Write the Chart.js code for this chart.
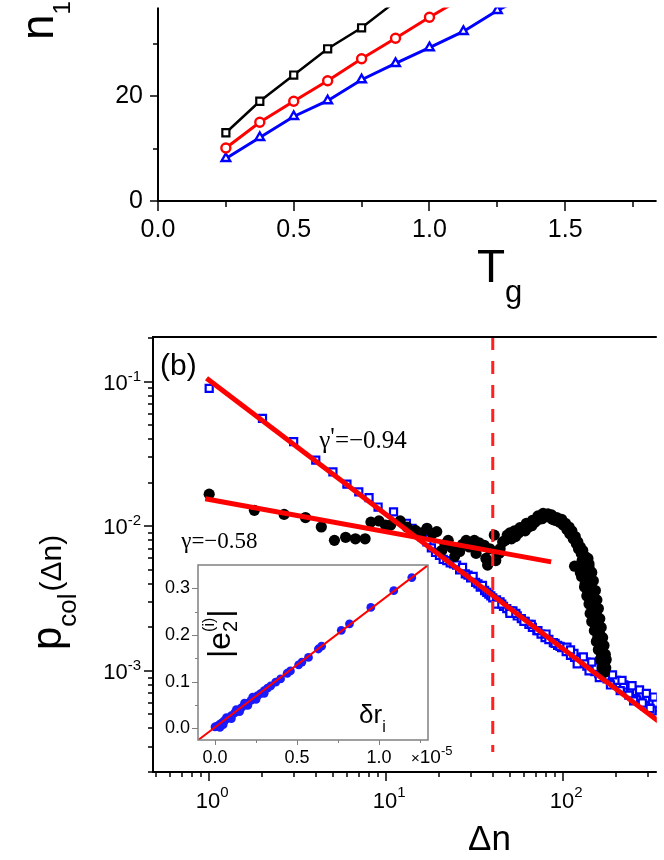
<!DOCTYPE html>
<html>
<head>
<meta charset="utf-8">
<script src="https://cdn.jsdelivr.net/npm/chart.js@4.4.0/dist/chart.umd.min.js"></script>
<style>
  body { margin: 0; background: #fff; }
  #wrap { position: relative; width: 664px; height: 860px; overflow: hidden; background: #fff; }
  canvas { position: absolute; }
  #topChart { left: 0; top: 0; }
  #bottomChart { left: 0; top: 310px; }
  #insetChart { left: 150px; top: 550px; }
</style>
</head>
<body>
<div id="wrap">
  <canvas id="topChart" width="664" height="310" style="width:664px;height:310px"></canvas>
  <canvas id="bottomChart" width="664" height="550" style="width:664px;height:550px"></canvas>
  <canvas id="insetChart" width="320" height="222" style="width:320px;height:222px"></canvas>
</div>
<script>
// panel (a): n1 vs Tg
const tgValues = [0.25, 0.375, 0.5, 0.625, 0.75, 0.875, 1.0, 1.125, 1.25, 1.375];
const n1Black = [13.0, 19.0, 24.0, 29.0, 33.0, 38.0];
const n1Red = [10.1, 15.0, 19.0, 22.9, 27.1, 31.0, 35.0, 38.8];
const n1Blue = [8.1, 12.1, 16.1, 19.1, 23.1, 26.2, 29.2, 32.3, 36.3, 39.6];
const tgMajorTicks = [0, 0.5, 1.0, 1.5];
const tgMinorTicks = [0.25, 0.75, 1.25, 1.75];
const n1MajorTicks = [0, 20];
const n1MinorTicks = [10, 30];

// panel (b): p_col(dn), log-log
const blueDn = [1, 2, 3, 4, 5, 6, 7, 8, 9, 11, 13,
  14, 15, 16, 17, 18, 19, 20, 21, 22, 23, 24, 25, 26, 27, 28, 29, 30, 31, 32, 33, 34, 35, 36, 37, 38, 39, 40,
  42, 44, 46, 48, 50, 52, 55, 58, 61, 64, 67, 71, 75, 79, 83, 88, 93, 98, 104, 110, 116, 122, 129, 136, 143,
  151, 159, 168, 177, 187, 197, 208, 219, 231, 244, 257, 271, 286, 301, 317, 334,
  42, 45, 50, 54, 60, 66, 72, 80, 90, 96, 105, 115, 125, 135, 150, 165, 180, 200, 220, 240, 260, 280, 300, 320, 335,
  120, 140, 160, 185, 210, 235, 260, 290, 320,
  110, 130, 145, 170, 190, 215, 245, 270, 295, 325, 250, 280, 310];
const blueP = [0.090, 0.0558, 0.0385, 0.0287, 0.0238, 0.0196, 0.0173, 0.0158, 0.0136, 0.0126, 0.0105,
  0.0097, 0.0090, 0.0084, 0.0078, 0.0071, 0.0066, 0.0063, 0.0059, 0.0058, 0.0056, 0.0055, 0.0054, 0.0050, 0.0052,
  0.0047, 0.0046, 0.0044, 0.0045, 0.0041, 0.0040, 0.0038, 0.0039, 0.0036, 0.0035, 0.0034, 0.0033, 0.0032,
  0.0031, 0.0030, 0.0028, 0.0027, 0.0026, 0.0026, 0.0024, 0.0023, 0.0022, 0.0021, 0.0020, 0.0019, 0.0018, 0.0017,
  0.00165, 0.00157, 0.00150, 0.00145, 0.00136, 0.00128, 0.00124, 0.00119, 0.00113, 0.00108, 0.00104,
  0.00099, 0.00096, 0.00091, 0.00088, 0.00084, 0.00081, 0.00078, 0.00075, 0.00072, 0.00070, 0.00067, 0.00064,
  0.00062, 0.00060, 0.00058, 0.00056,
  0.0029, 0.0029, 0.0025, 0.0025, 0.0022, 0.0021, 0.0019, 0.0018, 0.00155, 0.00148, 0.00146, 0.00132, 0.00120,
  0.00115, 0.00106, 0.00097, 0.00092, 0.00086, 0.00080, 0.00076, 0.00072, 0.00068, 0.00065, 0.00062, 0.00060,
  0.00112, 0.00100, 0.00090, 0.00080, 0.00073, 0.00068, 0.00063, 0.00057, 0.00053,
  0.00140, 0.00125, 0.00115, 0.00102, 0.00094, 0.00086, 0.00079, 0.00074, 0.00070, 0.00066, 0.00062, 0.00060,
  0.00055];

const blackDn = [1.0, 1.8, 2.65, 3.5, 4.3, 5.1, 5.9, 6.7, 7.6, 8.2, 9.1, 9.9, 10.6, 12.0, 13.1, 14.6, 15.8, 17.0,
  18.2, 19.3, 20.6, 21.5, 22.4, 23.5, 24.4, 26.0, 27.0, 28.3, 29.5, 31.5, 32.2, 33.5, 35.8, 36.6, 37.4, 38.5,
  40.8, 41.6, 43.5, 45.5, 48.3, 51, 53.8, 56, 58.6, 61, 63.8, 66.5, 69.5, 73, 76, 79, 83, 87, 90, 95, 100,
  105, 109, 114, 118.6, 122, 126.5, 130, 135, 116, 125, 136, 134, 132, 138, 144, 143, 147, 149, 150, 153,
  157, 160, 163, 165, 167, 169, 171,
  44, 47, 50, 53, 57, 62, 67, 72, 77, 82, 86, 92, 98, 103, 108, 112, 117, 121, 125, 129, 133, 138, 140, 142,
  139, 146, 149, 152, 155, 158, 161, 166, 170, 172, 174,
  140, 145, 148, 152, 155, 158, 161, 164, 167, 170, 173, 175, 128, 131, 127, 133, 136, 140, 142, 145, 150, 154,
  158, 162, 166];
const blackP = [0.0167, 0.0129, 0.0121, 0.0115, 0.0099, 0.0080, 0.0084, 0.0082, 0.0082, 0.0107, 0.0109, 0.0102,
  0.0102, 0.0109, 0.0099, 0.0094, 0.0090, 0.0097, 0.0089, 0.0092, 0.0068, 0.0075, 0.0080, 0.0071, 0.0062, 0.0067,
  0.0075, 0.0080, 0.0072, 0.0080, 0.0065, 0.0077, 0.0074, 0.0060, 0.0054, 0.0070, 0.0087, 0.0058, 0.0065, 0.0078,
  0.0087, 0.0082, 0.0085, 0.0090, 0.0094, 0.0093, 0.0099, 0.0101, 0.0107, 0.0112, 0.0113, 0.0120, 0.0116, 0.0112,
  0.0110, 0.0107, 0.0102, 0.0095, 0.0089, 0.0082, 0.0076, 0.0070, 0.0065, 0.0060, 0.0057, 0.0053, 0.0048, 0.0050,
  0.0044, 0.0038, 0.0035, 0.00325, 0.0029, 0.0026, 0.0023, 0.00214, 0.0019, 0.00172, 0.00155, 0.00139, 0.00128,
  0.00119, 0.00108, 0.00098,
  0.0070, 0.0080, 0.0090, 0.0093, 0.0098, 0.0105, 0.0110, 0.0118, 0.0123, 0.0122, 0.0120, 0.0115, 0.0112, 0.0105,
  0.0099, 0.0093, 0.0085, 0.0078, 0.0072, 0.0068, 0.0062, 0.0060, 0.0052, 0.0046, 0.0040, 0.0037, 0.0031, 0.0027,
  0.0024, 0.0021, 0.0018, 0.0015, 0.0013, 0.00115, 0.00105,
  0.0055, 0.0048, 0.0042, 0.0036, 0.0031, 0.0027, 0.0023, 0.0020, 0.0017, 0.0015, 0.0013, 0.0012, 0.0058, 0.0052,
  0.0045, 0.0040, 0.0033, 0.0029, 0.0025, 0.0022, 0.0019, 0.0016, 0.0014, 0.0012, 0.00105];

const fitSteepDn = [0.966, 400];
const fitSteepP = [0.1056, 0.000391];
const fitFlatDn = [0.95, 85.5];
const fitFlatP = [0.0155, 0.00568];
const cutoffDn = [40, 40];
const cutoffP = [0.204, 0.000275];
const dnMajorTicks = [1, 10, 100];
const pMajorTicks = [0.001, 0.01, 0.1];
const gammaSteepAt = [4.19, 0.0348];
const gammaFlatAt = [0.695, 0.00714];

// inset: |e2(i)| vs dr_i (x in units of 1e-5)
const insetDr = [0.00, 0.01, 0.02, 0.03, 0.04, 0.05, 0.06, 0.08, 0.10, 0.12, 0.14, 0.16, 0.18, 0.20, 0.22, 0.24,
  0.26, 0.28, 0.30, 0.32, 0.34, 0.37, 0.40, 0.44, 0.46, 0.51, 0.53, 0.57, 0.63, 0.65, 0.77, 0.82, 0.95, 1.09, 1.20,
  0.03, 0.05, 0.10, 0.15, 0.20, 0.25, 0.30, 0.07, 0.13, 0.18, 0.23];
const insetE2 = [0.003, 0.004, 0.006, 0.009, 0.011, 0.014, 0.017, 0.022, 0.027, 0.033, 0.038, 0.044, 0.049, 0.054,
  0.060, 0.065, 0.070, 0.075, 0.081, 0.086, 0.091, 0.099, 0.106, 0.118, 0.123, 0.136, 0.142, 0.152, 0.170, 0.176,
  0.210, 0.224, 0.259, 0.295, 0.323,
  0.002, 0.008, 0.021, 0.036, 0.049, 0.062, 0.075, 0.023, 0.040, 0.054, 0.067];
const insetFitDr = [-0.15, 1.4];
const insetFitE2 = [-0.0378, 0.3768];
const drTicks = [0, 0.5, 1.0];
const drMinorTicks = [0.25, 0.75, 1.25];
const e2Ticks = [0, 0.1, 0.2, 0.3];
const e2MinorTicks = [0.05, 0.15, 0.25];

const SANS = '"Liberation Sans", Arial, sans-serif';
const SERIF = '"Liberation Serif", "Times New Roman", serif';

function toPoints(xs, ys) {
  return ys.map((y, i) => ({ x: xs[i], y: y }));
}

function fontOf(p) {
  return p.size + "px " + (p.family || SANS);
}

// draws text pieces with sub/superscripts; returns total width
function drawParts(ctx, parts, x, y, angle, measureOnly) {
  ctx.save();
  ctx.translate(x, y);
  if (angle) ctx.rotate(angle);
  ctx.textAlign = "left";
  ctx.textBaseline = "alphabetic";
  ctx.fillStyle = "#000";
  let w = 0;
  let prevStart = 0;
  let prevW = 0;
  parts.forEach((p) => {
    ctx.font = fontOf(p);
    const pw = ctx.measureText(p.text).width;
    let start;
    if (p.overlay) {
      start = prevStart;
      prevW = Math.max(prevW, pw);
    } else {
      start = w + (p.dx || 0);
      prevStart = start;
      prevW = pw;
    }
    if (!measureOnly) ctx.fillText(p.text, start, p.dy || 0);
    w = prevStart + prevW;
  });
  ctx.restore();
  return w;
}

function line(ctx, x1, y1, x2, y2) {
  ctx.beginPath();
  ctx.moveTo(x1, y1);
  ctx.lineTo(x2, y2);
  ctx.stroke();
}

function logMinors(min, max) {
  const out = [];
  for (let e = Math.floor(Math.log10(min)); e <= Math.ceil(Math.log10(max)); e++) {
    for (let k = 2; k <= 9; k++) {
      const v = k * Math.pow(10, e);
      if (v >= min && v <= max) out.push(v);
    }
  }
  return out;
}

const topAxes = {
  id: "topAxes",
  afterDraw(chart) {
    const { ctx, chartArea: a, scales } = chart;
    const x = scales.x;
    const y = scales.y;
    ctx.save();
    ctx.strokeStyle = "#000";
    ctx.lineWidth = 2;
    line(ctx, a.left, a.top, a.left, a.bottom + 1);
    line(ctx, a.left - 1, a.bottom, a.right, a.bottom);
    ctx.lineWidth = 1.5;
    tgMajorTicks.forEach((v) => { const px = Math.round(x.getPixelForValue(v)); line(ctx, px, a.bottom, px, a.bottom + 10); });
    tgMinorTicks.forEach((v) => { const px = Math.round(x.getPixelForValue(v)); line(ctx, px, a.bottom, px, a.bottom + 6); });
    n1MajorTicks.forEach((v) => { const py = Math.round(y.getPixelForValue(v)); line(ctx, a.left - 8, py, a.left, py); });
    n1MinorTicks.forEach((v) => { const py = Math.round(y.getPixelForValue(v)); line(ctx, a.left - 5, py, a.left, py); });

    ctx.fillStyle = "#000";
    ctx.font = "25px " + SANS;
    ctx.textAlign = "center";
    ctx.textBaseline = "middle";
    tgMajorTicks.forEach((v) => ctx.fillText(v.toFixed(1), x.getPixelForValue(v), a.bottom + 29));
    ctx.textAlign = "right";
    n1MajorTicks.forEach((v) => ctx.fillText(String(v), a.left - 15, y.getPixelForValue(v)));
    ctx.restore();

    drawParts(ctx, [{ text: "T", size: 46 }, { text: "g", size: 31, dy: 20 }], a.left + 319, a.bottom + 81);
    drawParts(ctx, [{ text: "n", size: 46 }, { text: "1", size: 24, dy: 17 }], 53, 40, -Math.PI / 2);
  },
};

const bottomAxes = {
  id: "bottomAxes",
  afterDraw(chart) {
    const { ctx, chartArea: a, scales } = chart;
    const x = scales.x;
    const y = scales.y;
    ctx.save();
    ctx.strokeStyle = "#000";
    ctx.lineWidth = 2;
    line(ctx, a.left, a.top - 1, a.left, a.bottom + 1);
    line(ctx, a.left - 1, a.bottom, a.right, a.bottom);
    line(ctx, a.left - 1, a.top, a.right, a.top);
    ctx.lineWidth = 1.5;
    dnMajorTicks.forEach((v) => { const px = Math.round(x.getPixelForValue(v)); line(ctx, px, a.bottom, px, a.bottom + 9); });
    logMinors(x.min, x.max).forEach((v) => { const px = Math.round(x.getPixelForValue(v)); line(ctx, px, a.bottom, px, a.bottom + 5); });
    pMajorTicks.forEach((v) => { const py = Math.round(y.getPixelForValue(v)); line(ctx, a.left - 9, py, a.left, py); });
    logMinors(y.min, y.max).forEach((v) => { const py = Math.round(y.getPixelForValue(v)); line(ctx, a.left - 5, py, a.left, py); });
    ctx.restore();

    pMajorTicks.forEach((v) => {
      const parts = [{ text: "10", size: 22 }, { text: String(Math.round(Math.log10(v))), size: 15, dy: -9 }];
      const w = drawParts(ctx, parts, 0, 0, 0, true);
      drawParts(ctx, parts, a.left - 12 - w, y.getPixelForValue(v) + 8);
    });
    dnMajorTicks.forEach((v) => {
      const parts = [{ text: "10", size: 22 }, { text: String(Math.round(Math.log10(v))), size: 15, dy: -11 }];
      const w = drawParts(ctx, parts, 0, 0, 0, true);
      drawParts(ctx, parts, x.getPixelForValue(v) + 3 - w / 2, a.bottom + 36);
    });

    drawParts(ctx, [{ text: "(b)", size: 30 }], a.left + 7, a.top + 38);
    drawParts(ctx, [{ text: "\u0394n", size: 35 }], a.left + 315, a.bottom + 78);
    drawParts(ctx, [
      { text: "p", size: 42 },
      { text: "col", size: 26, dy: 15 },
      { text: "(\u0394n)", size: 30, dx: 2 },
    ], 61, 340, -Math.PI / 2);

    drawParts(ctx, [
      { text: "\u03b3", size: 25, family: SERIF },
      { text: "'", size: 25, dy: -3, family: SERIF },
      { text: "=\u22120.94", size: 25, family: SERIF },
    ], x.getPixelForValue(gammaSteepAt[0]), y.getPixelForValue(gammaSteepAt[1]));
    drawParts(ctx, [
      { text: "\u03b3=\u22120.58", size: 23, family: SERIF },
    ], x.getPixelForValue(gammaFlatAt[0]), y.getPixelForValue(gammaFlatAt[1]));
  },
};

const insetAxes = {
  id: "insetAxes",
  beforeDatasetsDraw(chart) {
    const { ctx, chartArea: a } = chart;
    ctx.save();
    ctx.fillStyle = "#fff";
    ctx.fillRect(a.left, a.top, a.right - a.left, a.bottom - a.top);
    ctx.restore();
  },
  afterDraw(chart) {
    const { ctx, chartArea: a, scales } = chart;
    const x = scales.x;
    const y = scales.y;
    ctx.save();
    ctx.strokeStyle = "#808080";
    ctx.lineWidth = 1.5;
    ctx.strokeRect(a.left, a.top, a.right - a.left, a.bottom - a.top);
    ctx.lineWidth = 1;
    drTicks.forEach((v) => { const px = Math.round(x.getPixelForValue(v)) + 0.5; line(ctx, px, a.bottom, px, a.bottom + 5); });
    drMinorTicks.forEach((v) => { const px = Math.round(x.getPixelForValue(v)) + 0.5; line(ctx, px, a.bottom, px, a.bottom + 3); });
    e2Ticks.forEach((v) => { const py = Math.round(y.getPixelForValue(v)) + 0.5; line(ctx, a.left - 6, py, a.left, py); });
    e2MinorTicks.forEach((v) => { const py = Math.round(y.getPixelForValue(v)) + 0.5; line(ctx, a.left - 3, py, a.left, py); });

    ctx.fillStyle = "#000";
    ctx.font = "18px " + SANS;
    ctx.textAlign = "center";
    ctx.textBaseline = "middle";
    drTicks.forEach((v) => ctx.fillText(v.toFixed(1), x.getPixelForValue(v), a.bottom + 18));
    ctx.textAlign = "right";
    e2Ticks.forEach((v) => ctx.fillText(v.toFixed(1), a.left - 8, y.getPixelForValue(v)));
    ctx.restore();

    drawParts(ctx, [
      { text: "\u00d7", size: 15 },
      { text: "10", size: 19 },
      { text: "-5", size: 13, dy: -8 },
    ], a.right - 17, a.bottom + 23);
    drawParts(ctx, [{ text: "\u03b4r", size: 26 }, { text: "i", size: 16, dy: 9 }], a.right - 69, a.bottom - 17);
    drawParts(ctx, [
      { text: "|e", size: 32 },
      { text: "2", size: 20, dy: 7 },
      { text: "(i)", size: 16, dy: -16, overlay: true },
      { text: "|", size: 32 },
    ], a.left + 32, a.bottom - 82, -Math.PI / 2);
  },
};

const baseOptions = {
  responsive: false,
  animation: false,
  events: [],
  plugins: { legend: { display: false }, tooltip: { enabled: false } },
};

new Chart(document.getElementById("topChart"), {
  type: "scatter",
  data: {
    datasets: [
      {
        data: toPoints(tgValues, n1Black),
        showLine: true,
        borderColor: "#000000",
        borderWidth: 2.5,
        pointStyle: "rect",
        pointRadius: 5,
        pointBorderWidth: 2.2,
        pointBorderColor: "#000000",
        pointBackgroundColor: "#ffffff",
      },
      {
        data: toPoints(tgValues, n1Red),
        showLine: true,
        borderColor: "#ff0000",
        borderWidth: 3,
        pointStyle: "circle",
        pointRadius: 4.5,
        pointBorderWidth: 2.4,
        pointBorderColor: "#ff0000",
        pointBackgroundColor: "#ffffff",
      },
      {
        data: toPoints(tgValues, n1Blue),
        showLine: true,
        borderColor: "#0000ff",
        borderWidth: 3,
        pointStyle: "triangle",
        pointRadius: 5,
        pointBorderWidth: 2.4,
        pointBorderColor: "#0000ff",
        pointBackgroundColor: "#ffffff",
      },
    ],
  },
  options: {
    ...baseOptions,
    layout: { padding: { left: 158, top: 0, right: 0, bottom: 109 } },
    scales: {
      x: { type: "linear", display: false, min: 0, max: 1.8367 },
      y: { type: "linear", display: false, min: 0, max: 36.88 },
    },
  },
  plugins: [topAxes],
});

new Chart(document.getElementById("bottomChart"), {
  type: "scatter",
  data: {
    datasets: [
      {
        data: toPoints(fitSteepDn, fitSteepP),
        showLine: true,
        borderColor: "#ff0000",
        borderWidth: 5,
        pointRadius: 0,
        order: 1,
      },
      {
        data: toPoints(fitFlatDn, fitFlatP),
        showLine: true,
        borderColor: "#ff0000",
        borderWidth: 5,
        pointRadius: 0,
        order: 1,
      },
      {
        data: toPoints(cutoffDn, cutoffP),
        showLine: true,
        borderColor: "#ff2020",
        borderWidth: 3,
        borderDash: [13, 11],
        pointRadius: 0,
        order: 2,
      },
      {
        data: toPoints(blackDn, blackP),
        pointStyle: "circle",
        pointRadius: 5.6,
        pointBorderWidth: 0,
        pointBackgroundColor: "#000000",
        order: 3,
      },
      {
        data: toPoints(blueDn, blueP),
        pointStyle: "rect",
        pointRadius: 5,
        pointBorderWidth: 2.2,
        pointBorderColor: "#0000ff",
        pointBackgroundColor: "#ffffff",
        order: 4,
      },
    ],
  },
  options: {
    ...baseOptions,
    layout: { padding: { left: 153, top: 27, right: 0, bottom: 88 } },
    scales: {
      x: { type: "logarithmic", display: false, min: 0.4814, max: 338 },
      y: { type: "logarithmic", display: false, min: 0.0002, max: 0.204 },
    },
  },
  plugins: [bottomAxes],
});

new Chart(document.getElementById("insetChart"), {
  type: "scatter",
  data: {
    datasets: [
      {
        data: toPoints(insetFitDr, insetFitE2),
        showLine: true,
        borderColor: "#ff0000",
        borderWidth: 2,
        pointRadius: 0,
        order: 1,
      },
      {
        data: toPoints(insetDr, insetE2),
        pointStyle: "circle",
        pointRadius: 4.4,
        pointBorderWidth: 0,
        pointBackgroundColor: "#1a1aff",
        order: 2,
      },
    ],
  },
  options: {
    ...baseOptions,
    layout: { padding: { left: 48, top: 15, right: 42, bottom: 32 } },
    scales: {
      x: { type: "linear", display: false, min: -0.1037, max: 1.2988 },
      y: { type: "linear", display: false, min: -0.025, max: 0.35 },
    },
  },
  plugins: [insetAxes],
});
</script>
</body>
</html>
